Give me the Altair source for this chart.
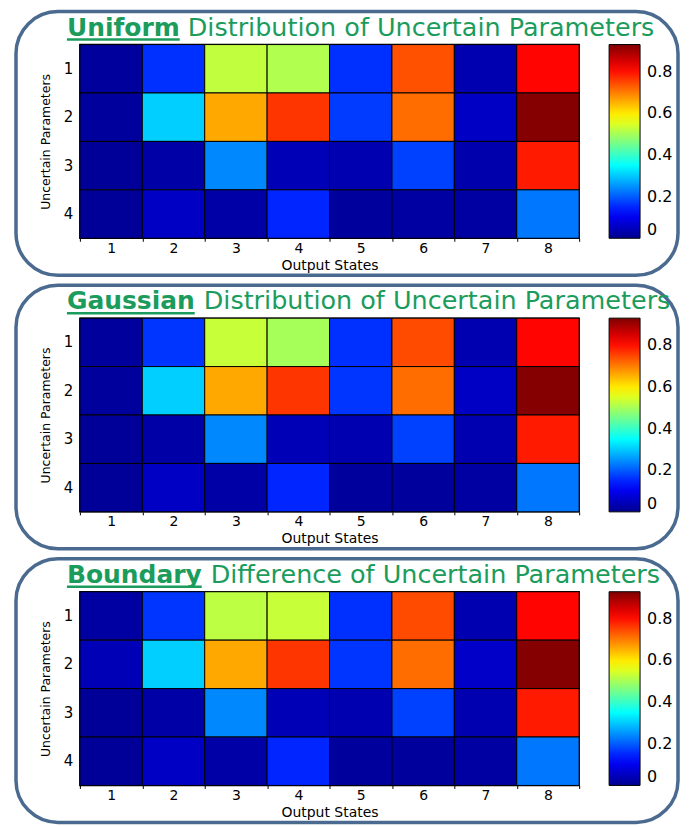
import altair as alt
import pandas as pd

# ---------------- data ----------------
output_states = [1, 2, 3, 4, 5, 6, 7, 8]
uncertain_params = [1, 2, 3, 4]

uniform = [
    [0.015, 0.160, 0.525, 0.510, 0.160, 0.740, 0.035, 0.810],
    [0.015, 0.305, 0.660, 0.765, 0.170, 0.715, 0.055, 0.925],
    [0.010, 0.025, 0.240, 0.040, 0.035, 0.175, 0.030, 0.790],
    [0.010, 0.055, 0.025, 0.150, 0.015, 0.020, 0.020, 0.225],
]
gaussian = [
    [0.015, 0.165, 0.530, 0.500, 0.160, 0.745, 0.035, 0.810],
    [0.015, 0.305, 0.660, 0.765, 0.165, 0.715, 0.055, 0.925],
    [0.010, 0.025, 0.240, 0.040, 0.035, 0.175, 0.035, 0.790],
    [0.010, 0.055, 0.025, 0.150, 0.015, 0.015, 0.020, 0.225],
]
boundary = [
    [0.020, 0.165, 0.520, 0.530, 0.160, 0.745, 0.035, 0.810],
    [0.040, 0.305, 0.660, 0.765, 0.165, 0.715, 0.060, 0.925],
    [0.010, 0.025, 0.240, 0.040, 0.035, 0.175, 0.035, 0.790],
    [0.010, 0.055, 0.025, 0.150, 0.015, 0.015, 0.020, 0.225],
]
panels_data = [uniform, gaussian, boundary]

bold_words = ["Uniform", "Gaussian", "Boundary"]
rest_words = [
    "Distribution of Uncertain Parameters",
    "Distribution of Uncertain Parameters",
    "Difference of Uncertain Parameters",
]

colorbar_ticks = [0, 0.2, 0.4, 0.6, 0.8]
cmax = 0.93
jet_fracs = [0, 0.125, 0.375, 0.625, 0.875, 1.0]
jet_colors = ["#00008F", "#0000FF", "#00FFFF", "#FFFF00", "#FF0000", "#800000"]

# ---------------- style ----------------
FONT = "DejaVu Sans"
GREEN = "#1B9C5C"
BORDER = "#4B6A8F"
W, H = 500, 194
BOLD_END = [100, 115, 122]
REST_X = [108, 124, 131]

color_scale = alt.Scale(
    domain=[f * cmax for f in jet_fracs], range=jet_colors, interpolate="rgb"
)


def make_panel(i):
    rows = []
    for r, p in enumerate(uncertain_params):
        for c, s in enumerate(output_states):
            rows.append({"param": p, "state": s, "value": panels_data[i][r][c]})
    df = pd.DataFrame(rows)
    tdf = pd.DataFrame({"bold": [bold_words[i]], "rest": [rest_words[i]]})

    heat = alt.Chart(df).mark_rect(stroke="black", strokeWidth=1).encode(
        x=alt.X(
            "state:O",
            scale=alt.Scale(paddingInner=0, paddingOuter=0),
            axis=alt.Axis(
                title="Output States", titleFontSize=14, titleFontWeight="normal",
                labelFontSize=14, labelAngle=0, tickBand="extent", tickSize=3,
                tickColor="black", domain=False, labelPadding=0, titlePadding=3,
            ),
        ),
        y=alt.Y(
            "param:O",
            scale=alt.Scale(paddingInner=0, paddingOuter=0),
            axis=alt.Axis(
                title="Uncertain Parameters", titleFontSize=12.5, titleFontWeight="normal",
                labelFontSize=15, labelAngle=0, ticks=False, domain=False,
                labelPadding=7, titlePadding=11,
            ),
        ),
        color=alt.Color(
            "value:Q",
            scale=color_scale,
            legend=alt.Legend(
                title=None, orient="none", legendX=530, legendY=0,
                direction="vertical", gradientLength=H, gradientThickness=31,
                gradientStrokeColor="black", gradientStrokeWidth=1,
                values=colorbar_ticks,
                labelExpr="datum.value == 0 ? '0' : format(datum.value, '.1f')",
                labelFontSize=16, labelOffset=7, labelBaseline="middle",
                labelColor="black", padding=0,
            ),
        ),
    )

    box = alt.Chart(tdf).mark_rect(
        cornerRadius=42, fillOpacity=0, stroke=BORDER, strokeWidth=3.5
    ).encode(x=alt.value(-64), x2=alt.value(599), y=alt.value(-33), y2=alt.value(231))

    bold = alt.Chart(tdf).mark_text(
        font=FONT, fontSize=25, fontWeight="bold", color=GREEN,
        align="left", baseline="alphabetic",
    ).encode(text="bold:N", x=alt.value(-13), y=alt.value(-9))

    underline = alt.Chart(tdf).mark_rule(color=GREEN, strokeWidth=2.5).encode(
        x=alt.value(-13), x2=alt.value(BOLD_END[i]), y=alt.value(-5)
    )

    rest = alt.Chart(tdf).mark_text(
        font=FONT, fontSize=25.5, color=GREEN, align="left", baseline="alphabetic",
    ).encode(text="rest:N", x=alt.value(REST_X[i]), y=alt.value(-9))

    return alt.layer(box, heat, underline, bold, rest).properties(width=W, height=H)


chart = (
    alt.vconcat(*[make_panel(i) for i in range(3)], spacing=4)
    .resolve_scale(color="independent")
    .properties(padding={"left": 5, "top": 0, "right": 0, "bottom": 0})
    .configure(font=FONT)
    .configure_view(stroke="black", strokeWidth=1.5)
    .configure_axis(labelColor="black", titleColor="black", labelFont=FONT, titleFont=FONT)
    .configure_legend(labelFont=FONT)
)

chart.save("out.html", embed_options={"renderer": "svg", "actions": False})
